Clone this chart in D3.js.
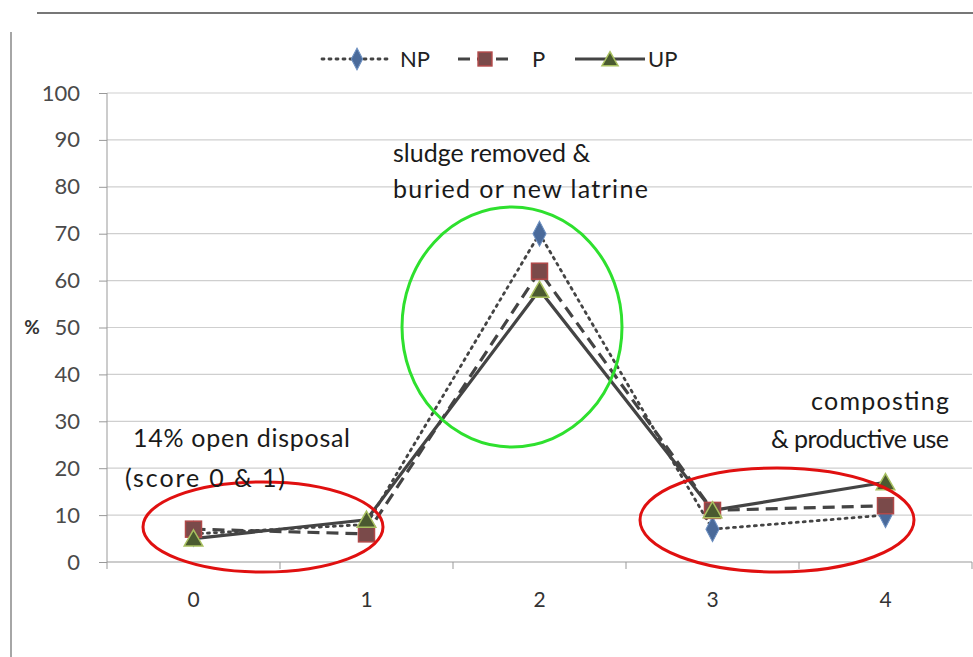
<!DOCTYPE html>
<html><head><meta charset="utf-8">
<script src="https://cdnjs.cloudflare.com/ajax/libs/d3/7.8.5/d3.min.js"></script>
<style>body{margin:0;background:#fff}svg{display:block}text{font-family:Lato,"Open Sans",sans-serif}</style>
</head><body>
<svg id="c" width="973" height="657"></svg>
<script>
const categories = ["0","1","2","3","4"];
const seriesNames = ["NP","P","UP"];
const npValues = [6, 8, 70, 7, 10];
const pValues = [7, 6, 62, 11, 12];
const upValues = [5, 9, 58, 11, 17];
const yTicks = [0,10,20,30,40,50,60,70,80,90,100];

(function(){
const svg = d3.select("#c");
const pL = 107, pR = 972, pT = 93, pB = 562;
const x = d3.scaleBand().domain(categories).range([pL, pR]);
const y = d3.scaleLinear().domain([0,100]).range([pB, pT]);
const cx = c => x(c) + x.bandwidth()/2;

// frame decorations
svg.append("line").attr("x1",37).attr("x2",973).attr("y1",13).attr("y2",13).attr("stroke","#777").attr("stroke-width",2);
svg.append("line").attr("x1",11).attr("x2",11).attr("y1",32).attr("y2",657).attr("stroke","#888").attr("stroke-width",1.5);

// gridlines
svg.append("g").selectAll("line").data(yTicks.filter(t=>t>0)).join("line")
  .attr("x1",pL).attr("x2",pR).attr("y1",d=>y(d)).attr("y2",d=>y(d))
  .attr("stroke","#cfcfcf").attr("stroke-width",1.2);

// y axis
const ya = svg.append("g").attr("transform",`translate(${pL},0)`)
  .call(d3.axisLeft(y).tickValues(yTicks).tickSize(8).tickPadding(19));
ya.select(".domain").attr("stroke","#999").attr("d",`M0,${pT}V${pB}`);
ya.selectAll(".tick line").attr("stroke","#999");
ya.selectAll("text").attr("fill","#4a4a4a").style("font-size","22px").style("font-family","Lato");

// x axis
const xa = svg.append("g").attr("transform",`translate(0,${pB})`)
  .call(d3.axisBottom(x).tickSize(0).tickPadding(30));
xa.select(".domain").attr("stroke","#999").attr("d",`M${pL},0H${pR}`);
xa.selectAll("text").attr("fill","#333").style("font-size","21px").style("font-family","Lato");
svg.append("g").selectAll("line").data(categories.concat(["end"])).join("line")
  .attr("x1",(d,i)=>pL+i*x.bandwidth()).attr("x2",(d,i)=>pL+i*x.bandwidth())
  .attr("y1",pB).attr("y2",pB+7).attr("stroke","#999");

svg.append("text").attr("x",32).attr("y",334).attr("text-anchor","middle")
  .style("font-size","19px").style("font-weight","bold").attr("fill","#333").text("%");

const line = d3.line().x((d,i)=>cx(categories[i])).y(d=>y(d));
const series = [
  {name:"NP", values:npValues, dash:"2,5", width:2.8, cap:"round"},
  {name:"P", values:pValues, dash:"12,7", width:3.2, cap:"butt"},
  {name:"UP", values:upValues, dash:null, width:3.2, cap:"butt"}
];
series.forEach(s=>{
  svg.append("path").attr("d",line(s.values)).attr("fill","none")
    .attr("stroke","#444").attr("stroke-width",s.width)
    .attr("stroke-dasharray",s.dash).attr("stroke-linecap",s.cap);
});

function marker(g, name, px, py, sc){
  sc = sc||1;
  if(name==="NP"){
    g.append("path").attr("d",d3.symbol(d3.symbolDiamond, 150*sc)())
      .attr("transform",`translate(${px},${py}) scale(1,1.1)`)
      .attr("fill","#4a6a9a").attr("stroke","#6c8fc0").attr("stroke-width",1);
  } else if(name==="P"){
    const s=16*Math.sqrt(sc);
    g.append("rect").attr("x",px-s/2).attr("y",py-s/2).attr("width",s).attr("height",s)
      .attr("fill","#7a4a4a").attr("stroke","#b04848").attr("stroke-width",1.5);
  } else {
    g.append("path").attr("d",d3.symbol(d3.symbolTriangle, 150*sc)())
      .attr("transform",`translate(${px},${py+2})`)
      .attr("fill","#4a5a30").attr("stroke","#a8c060").attr("stroke-width",1.5);
  }
}
const mg = svg.append("g");
series.forEach(s=>{
  s.values.forEach((v,i)=>marker(mg, s.name, cx(categories[i]), y(v)));
});

// legend
const lg = svg.append("g");
const legendItems = [
  {name:"NP", x0:322, x1:392, tx:400},
  {name:"P", x0:458, x1:512, tx:532},
  {name:"UP", x0:575, x1:645, tx:648}
];
legendItems.forEach((it,i)=>{
  const s = series[i];
  lg.append("line").attr("x1",it.x0).attr("x2",it.x1).attr("y1",59).attr("y2",59)
    .attr("stroke","#444").attr("stroke-width",s.width).attr("stroke-dasharray",s.dash).attr("stroke-linecap",s.cap);
  marker(lg, it.name, (it.x0+it.x1)/2, 59, 0.75);
  lg.append("text").attr("x",it.tx).attr("y",67).style("font-size","22px").attr("fill","#222").text(it.name);
});

// ellipses
svg.append("ellipse").attr("cx",263).attr("cy",527).attr("rx",120).attr("ry",45)
  .attr("fill","none").attr("stroke","#e01010").attr("stroke-width",3);
svg.append("ellipse").attr("cx",777).attr("cy",520).attr("rx",137).attr("ry",52)
  .attr("fill","none").attr("stroke","#e01010").attr("stroke-width",3);
svg.append("ellipse").attr("cx",512).attr("cy",327).attr("rx",110).attr("ry",120)
  .attr("fill","none").attr("stroke","#2ee02e").attr("stroke-width",3);

// annotations
const ann = svg.append("g").style("font-size","25px").attr("fill","#1a1a1a");
function note(xp, yp, txt, len){
  const t = ann.append("text").attr("x",xp).attr("y",yp).text(txt);
  if(len) t.attr("textLength",len).attr("lengthAdjust","spacing");
}
note(393, 162, "sludge removed &");
note(393, 198, "buried or new latrine", 255);
note(133, 447, "14% open disposal", 217);
note(125, 487, "(score 0 & 1)", 160);
note(811, 410, "composting", 138);
note(771, 448, "& productive use", 178);
})();
</script>
</body></html>
